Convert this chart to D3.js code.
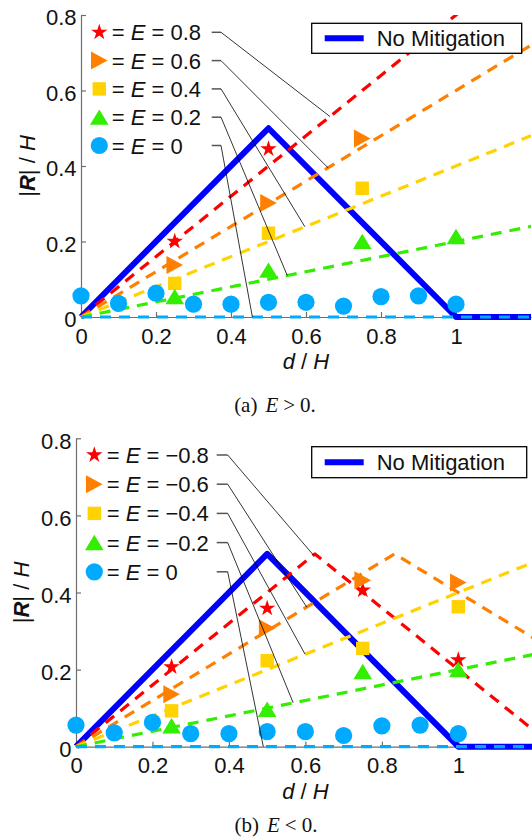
<!DOCTYPE html>
<html>
<head>
<meta charset="utf-8">
<title>Reflection vs distance</title>
<script src="https://cdn.jsdelivr.net/npm/d3@7"></script>
<style>
  body { margin: 0; background: #fff; }
  svg { display: block; }
  text { font-family: "Liberation Sans", Arial, sans-serif; white-space: pre; }
  .caption { font-family: "Liberation Serif", "Times New Roman", serif; }
</style>
</head>
<body>
<svg id="chart" width="532" height="839"></svg>
<script>
// ---- data ----
var xTicks = [0, 0.2, 0.4, 0.6, 0.8, 1];
var yTicks = [0, 0.2, 0.4, 0.6, 0.8];
var noMitigation = [[0, 0], [0.5, 0.5], [1, 0], [1.2, 0]];
var circleX = [0, 0.1, 0.2, 0.3, 0.4, 0.5, 0.6, 0.7, 0.8, 0.9, 1];
var circleY = [0.056, 0.036, 0.063, 0.034, 0.034, 0.039, 0.039, 0.029, 0.054, 0.056, 0.034];

// panel (a) E > 0
var aLabels = ['0.8', '0.6', '0.4', '0.2', '0'];
var aMarkX = [[0.25, 0.5], [0.25, 0.5, 0.75], [0.25, 0.5, 0.75], [0.25, 0.5, 0.75, 1], circleX];
var aMarkY = [[0.2, 0.445], [0.138, 0.302, 0.473], [0.089, 0.222, 0.341], [0.054, 0.124, 0.2, 0.213], circleY];
var aLines = [
  [[0, 0], [1.2, 0.96]],
  [[0, 0], [1.2, 0.72]],
  [[0, 0], [1.2, 0.48]],
  [[0, 0], [1.2, 0.24]],
  [[0, 0], [1.2, 0]]
];
var aLeaderTo = [[0.664, 0.531], [0.659, 0.395], [0.597, 0.239], [0.55, 0.11], [0.457, 0]];

// panel (b) E < 0
var bLabels = ['\u22120.8', '\u22120.6', '\u22120.4', '\u22120.2', '0'];
var bMarkX = [[0.25, 0.5, 0.75, 1], [0.25, 0.5, 0.75, 1], [0.25, 0.5, 0.75, 1], [0.25, 0.5, 0.75, 1], circleX];
var bMarkY = [[0.207, 0.359, 0.406, 0.225], [0.136, 0.307, 0.432, 0.426], [0.093, 0.223, 0.255, 0.363], [0.054, 0.097, 0.195, 0.2], circleY];
var bLines = [
  [[0, 0], [0.625, 0.5], [1.25, 0]],
  [[0, 0], [0.833, 0.5], [1.667, 0]],
  [[0, 0], [1.2, 0.48]],
  [[0, 0], [1.2, 0.24]],
  [[0, 0], [1.2, 0]]
];
var bLeaderTo = [[0.621, 0.497], [0.6035, 0.362], [0.599, 0.24], [0.568, 0.114], [0.49, 0]];

// ---- styles ----
var colors = ['#ff0000', '#ff8000', '#ffd200', '#33ee00', '#00aaff'];
var shapes = ['star', 'right', 'square', 'up', 'circle'];
var axisColor = '#6e6e6e';

var svg = d3.select('#chart');

function markerPath(shape) {
  if (shape === 'star') return d3.symbol(d3.symbolStar, 84)();
  if (shape === 'right') return 'M-8.3,-9L8.3,0L-8.3,9Z';
  if (shape === 'square') return 'M-6.7,-6.7H6.7V6.7H-6.7Z';
  if (shape === 'up') return 'M0,-7.8L9.3,7.6H-9.3Z';
  return d3.symbol(d3.symbolCircle, Math.PI * 8.6 * 8.6)();
}

function drawPanel(p) {
  var x = d3.scaleLinear().domain([0, 1.2]).range([p.x0, p.x1]);
  var y = d3.scaleLinear().domain([0, 0.8]).range([p.y0, p.y1]);
  var g = svg.append('g');

  g.append('clipPath').attr('id', 'clip-' + p.id).append('rect')
    .attr('x', p.x0 - 12).attr('y', p.y1)
    .attr('width', p.x1 - p.x0 + 12).attr('height', p.y0 - p.y1 + 12);

  // axes
  var ax = g.append('g')
    .attr('transform', 'translate(0,' + p.y0 + ')')
    .call(d3.axisBottom(x).tickValues(xTicks).tickFormat(d3.format('~g'))
      .tickSizeInner(-5).tickSizeOuter(0).tickPadding(11));
  var ay = g.append('g')
    .attr('transform', 'translate(' + p.x0 + ',0)')
    .call(d3.axisLeft(y).tickValues(yTicks).tickFormat(d3.format('~g'))
      .tickSizeInner(-5).tickSizeOuter(0).tickPadding(4.5));
  [ax, ay].forEach(function (a) {
    a.attr('font-size', 22).attr('font-family', null);
    a.selectAll('path, line').attr('stroke', axisColor).attr('stroke-width', 1.2);
    a.selectAll('text').attr('fill', '#111');
  });
  ay.selectAll('text').attr('dy', '0.45em');

  // axis titles
  var xt = g.append('text')
    .attr('x', (p.x0 + p.x1) / 2).attr('y', p.y0 + 52)
    .attr('text-anchor', 'middle').attr('font-size', 22).attr('fill', '#111');
  xt.append('tspan').attr('font-style', 'italic').text('d');
  xt.append('tspan').text(' / ');
  xt.append('tspan').attr('font-style', 'italic').text('H');

  var yt = g.append('text')
    .attr('transform', 'translate(' + p.ylabX + ',' + (p.y0 + p.y1) / 2 + ') rotate(-90)')
    .attr('text-anchor', 'middle').attr('font-size', 22).attr('fill', '#111');
  yt.append('tspan').text('|');
  yt.append('tspan').attr('font-style', 'italic').attr('font-weight', 'bold').text('R');
  yt.append('tspan').text('| / ');
  yt.append('tspan').attr('font-style', 'italic').text('H');

  var plot = g.append('g').attr('clip-path', 'url(#clip-' + p.id + ')');
  var line = d3.line().x(function (d) { return x(d[0]); }).y(function (d) { return y(d[1]); });

  // no mitigation
  plot.append('path').datum(noMitigation)
    .attr('d', line).attr('fill', 'none')
    .attr('stroke', '#0000ff').attr('stroke-width', 6)
    .attr('stroke-linejoin', 'round');

  // dashed model lines
  p.lines.forEach(function (pts, i) {
    plot.append('path').datum(pts)
      .attr('d', line).attr('fill', 'none')
      .attr('stroke', colors[i]).attr('stroke-width', 3.2)
      .attr('stroke-dasharray', '11,8')
      .attr('stroke-linejoin', 'round');
  });

  // markers
  p.markX.forEach(function (xs, i) {
    g.append('g').selectAll('path')
      .data(xs.map(function (v, j) { return [v, p.markY[i][j]]; }))
      .enter().append('path')
      .attr('d', markerPath(shapes[i]))
      .attr('transform', function (d) { return 'translate(' + x(d[0]) + ',' + y(d[1]) + ')'; })
      .attr('fill', colors[i]);
  });

  // labels with leader lines
  p.labels.forEach(function (lab, i) {
    var ry = p.row0 + i * p.rowStep;
    g.append('path')
      .attr('d', markerPath(shapes[i]))
      .attr('transform', 'translate(' + p.markerX + ',' + ry + ')')
      .attr('fill', colors[i]);
    var t = g.append('text')
      .attr('x', p.textX).attr('y', ry + 8)
      .attr('font-size', 22).attr('fill', '#111');
    t.append('tspan').text('= ');
    t.append('tspan').attr('font-style', 'italic').text('E');
    t.append('tspan').text(' = ' + lab);

    g.append('line')
      .attr('x1', p.leadX0).attr('x2', p.leadX1).attr('y1', ry).attr('y2', ry)
      .attr('stroke', '#555').attr('stroke-width', 1.5);
    g.append('line')
      .attr('x1', p.leadX1).attr('y1', ry)
      .attr('x2', x(p.leaderTo[i][0])).attr('y2', y(p.leaderTo[i][1]))
      .attr('stroke', '#000').attr('stroke-width', 0.8);
  });

  // legend
  var lg = g.append('g');
  lg.append('rect')
    .attr('x', p.legend.x).attr('y', p.legend.y)
    .attr('width', p.legend.w).attr('height', p.legend.h)
    .attr('fill', '#fff').attr('stroke', '#000').attr('stroke-width', 1.3);
  var ly = p.legend.y + p.legend.h / 2;
  lg.append('line')
    .attr('x1', p.legend.x + 13).attr('x2', p.legend.x + 52)
    .attr('y1', ly).attr('y2', ly)
    .attr('stroke', '#0000ff').attr('stroke-width', 6);
  lg.append('text')
    .attr('x', p.legend.x + 65).attr('y', ly + 8)
    .attr('font-size', 22).attr('fill', '#111')
    .text('No Mitigation');

  // caption
  var c = g.append('text').attr('class', 'caption')
    .attr('x', p.capX).attr('y', p.capY)
    .attr('text-anchor', 'middle').attr('font-size', 21).attr('fill', '#111');
  c.append('tspan').text('(' + p.id + ')');
  c.append('tspan').attr('dx', 8).attr('font-style', 'italic').text('E');
  c.append('tspan').attr('dx', 5).text(p.sign);
  c.append('tspan').attr('dx', 5).text('0.');
}

drawPanel({
  id: 'a', x0: 81, x1: 531, y0: 317, y1: 15,
  labels: aLabels, markX: aMarkX, markY: aMarkY, lines: aLines, leaderTo: aLeaderTo,
  markerX: 99.3, textX: 111.7, row0: 32.3, rowStep: 28.3, leadX0: 211.7, leadX1: 221,
  legend: { x: 311.7, y: 23.3, w: 210, h: 30 },
  ylabX: 35, capX: 275, capY: 412, sign: '>'
});

drawPanel({
  id: 'b', x0: 76, x1: 534.8, y0: 746.7, y1: 438.3,
  labels: bLabels, markX: bMarkX, markY: bMarkY, lines: bLines, leaderTo: bLeaderTo,
  markerX: 94.3, textX: 106.7, row0: 455, rowStep: 29.2, leadX0: 216.7, leadX1: 227.7,
  legend: { x: 311.7, y: 446.7, w: 215, h: 31 },
  ylabX: 29, capX: 276, capY: 832, sign: '<'
});
</script>
</body>
</html>
